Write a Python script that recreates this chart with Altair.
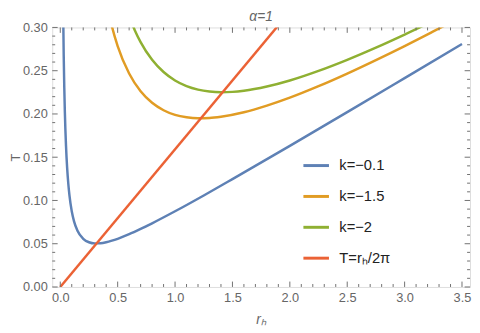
import altair as alt
import pandas as pd

# ---- data ----
blue_r = [0.02, 0.025, 0.03, 0.035, 0.04, 0.05, 0.06, 0.07, 0.08, 0.1, 0.12, 0.15, 0.2, 0.25, 0.3,
          0.35, 0.4, 0.45, 0.5, 0.6, 0.7, 0.8, 1.0, 1.25, 1.5, 2.0, 2.5, 3.0, 3.5]
blue_T = [0.400, 0.3203, 0.2677, 0.2302, 0.2021, 0.1631, 0.1374, 0.1193, 0.1058, 0.0875, 0.0759, 0.0650,
          0.0557, 0.0517, 0.0504, 0.0506, 0.0517, 0.0535, 0.0557, 0.0610, 0.0671, 0.0736, 0.0875, 0.1058,
          0.1247, 0.1631, 0.2021, 0.2414, 0.2808]

orange_r = [0.42, 0.45, 0.5, 0.6, 0.7, 0.8, 0.9, 1.0, 1.1, 1.2, 1.3, 1.4, 1.6, 1.8, 2.0, 2.25, 2.5,
            2.75, 3.0, 3.25, 3.5]
orange_T = [0.3176, 0.3011, 0.2785, 0.2467, 0.2262, 0.2129, 0.2043, 0.1989, 0.1961, 0.1950, 0.1953,
            0.1967, 0.2019, 0.2096, 0.2188, 0.2321, 0.2467, 0.2623, 0.2785, 0.2954, 0.3126]

green_r = [0.6, 0.65, 0.7, 0.8, 0.9, 1.0, 1.1, 1.2, 1.3, 1.4, 1.5, 1.6, 1.8, 2.0, 2.25, 2.5, 2.75,
           3.0, 3.25]
green_T = [0.3130, 0.2966, 0.2831, 0.2626, 0.2485, 0.2387, 0.2322, 0.2281, 0.2259, 0.2251, 0.2255,
           0.2268, 0.2317, 0.2387, 0.2498, 0.2626, 0.2767, 0.2918, 0.3076]

red_r = [0.0, 2.0]
red_T = [0.0, 0.3183]

series_names = ["k=\u22120.1", "k=\u22121.5", "k=\u22122", "T=r\u2095/2\u03c0"]
series_colors = ["#5E81B5", "#E19C24", "#8FB032", "#EB6235"]

x_major = [0.0, 0.5, 1.0, 1.5, 2.0, 2.5, 3.0, 3.5]
x_minor = [round(i * 0.1, 2) for i in range(0, 36) if i % 5 != 0]
y_major = [0.0, 0.05, 0.10, 0.15, 0.20, 0.25, 0.30]
y_minor = [round(i * 0.01, 3) for i in range(0, 31) if i % 5 != 0]

# ---- build table ----
rows = []
for name, rs, ts in zip(series_names,
                        [blue_r, orange_r, green_r, red_r],
                        [blue_T, orange_T, green_T, red_T]):
    for r, t in zip(rs, ts):
        rows.append({"r": r, "T": t, "series": name})
df = pd.DataFrame(rows)

W, H = 425, 264
FRAME = "#707070"
TXT = "#666666"
FONT = "Liberation Sans"

xscale = alt.Scale(domain=[-0.07, 3.57], nice=False, zero=False)
yscale = alt.Scale(domain=[0, 0.3], nice=False, zero=False)

xaxis = alt.Axis(title="r\u2095", values=x_major, format=".1f", ticks=False, domain=False,
                 grid=False, labelPadding=5, labelFontSize=13, labelColor=TXT, labelFont=FONT,
                 titleFont=FONT, titleFontSize=14, titleFontStyle="italic",
                 titleFontWeight="normal", titleColor=TXT, titlePadding=8)
yaxis = alt.Axis(title="T", values=y_major, format=".2f", ticks=False, domain=False,
                 grid=False, labelPadding=5, labelFontSize=13, labelColor=TXT, labelFont=FONT,
                 titleFont=FONT, titleFontSize=13, titleFontWeight="normal",
                 titleColor=TXT, titlePadding=0)

lines = alt.Chart(df).mark_line(clip=True, strokeWidth=2.5, interpolate="monotone").encode(
    x=alt.X("r:Q", scale=xscale, axis=xaxis),
    y=alt.Y("T:Q", scale=yscale, axis=yaxis),
    color=alt.Color("series:N", sort=series_names,
                    scale=alt.Scale(domain=series_names, range=series_colors),
                    legend=alt.Legend(title=None, orient="none", legendX=254, legendY=126,
                                      symbolType="stroke", symbolSize=676, symbolStrokeWidth=3,
                                      labelFontSize=15, labelFont=FONT, labelColor="#222222",
                                      rowPadding=8.4, labelOffset=9, padding=0, labelLimit=300)),
)

def xt(vals, y1, y2):
    return alt.Chart(pd.DataFrame({"r": vals})).mark_rule(color=FRAME, strokeWidth=1).encode(
        x=alt.X("r:Q", scale=xscale, axis=xaxis), y=alt.value(y1), y2=alt.value(y2))

def yt(vals, x1, x2):
    return alt.Chart(pd.DataFrame({"T": vals})).mark_rule(color=FRAME, strokeWidth=1).encode(
        y=alt.Y("T:Q", scale=yscale, axis=yaxis), x=alt.value(x1), x2=alt.value(x2))

ticks = [
    xt(x_major, H, H - 5.5), xt(x_minor, H, H - 3),
    xt(x_major, 0, 5.5), xt(x_minor, 0, 3),
    yt(y_major, 0, 5.5), yt(y_minor, 0, 3),
    yt(y_major, W, W - 5.5), yt(y_minor, W, W - 3),
]

chart = alt.layer(lines, *ticks).properties(
    width=W, height=H,
    title=alt.TitleParams("\u03b1=1", font=FONT, fontSize=14, fontStyle="italic", fontWeight="normal",
                          color=TXT, anchor="middle", frame="group", offset=6, dy=8),
    padding={"left": 45, "top": 17, "right": 2, "bottom": 42},
    autosize="none",
).configure_view(stroke=FRAME, strokeWidth=1).configure(background="white")

chart.save("out.html", embed_options={"renderer": "svg", "actions": False})
